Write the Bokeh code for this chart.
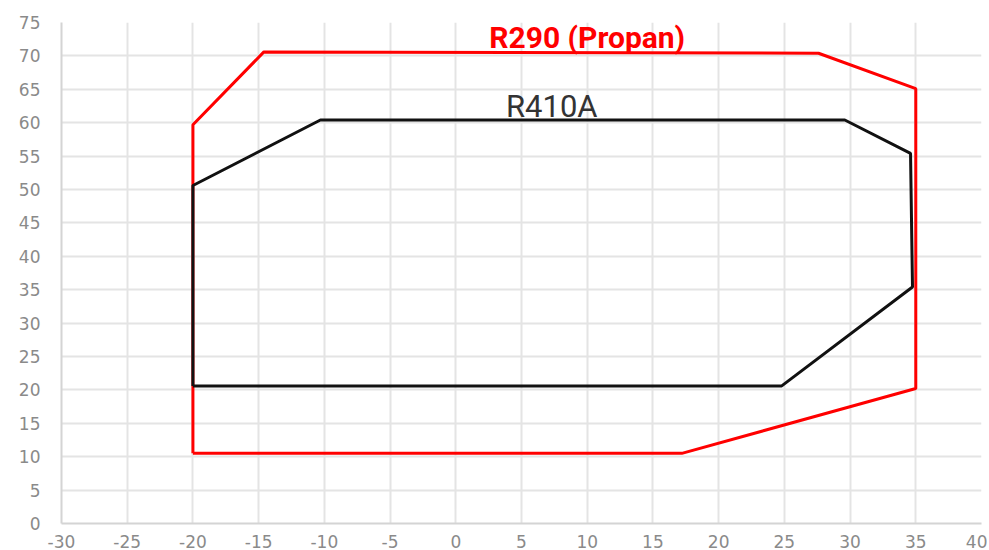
from bokeh.plotting import figure
from bokeh.models import FixedTicker, Range1d, PrintfTickFormatter
from bokeh.core.properties import value
from bokeh.embed import file_html
from bokeh.resources import INLINE

# R290 (Propan) envelope: outdoor temp (x) vs water temp (y)
r290_x = [-20, -20, -14.6, 27.6, 35, 35, 17.2, -20]
r290_y = [10.5, 59.7, 70.6, 70.4, 65.1, 20.2, 10.5, 10.5]

# R410A envelope
r410_x = [-20, -20, -10.3, 29.6, 34.6, 34.75, 24.8, -20]
r410_y = [20.6, 50.6, 60.4, 60.4, 55.4, 35.4, 20.6, 20.6]

x_ticks = list(range(-30, 45, 5))
y_ticks = list(range(0, 80, 5))

labels = ["R290 (Propan)", "R410A"]
label_x = [10.0, 7.3]
label_y = [72.8, 62.5]

p = figure(width=987, height=550, output_backend="svg", toolbar_location=None,
           x_range=Range1d(-30, 40), y_range=Range1d(0, 75),
           min_border_left=61, min_border_right=6, min_border_top=22, min_border_bottom=0)
p.outline_line_color = None
p.background_fill_color = "white"

for ax in (p.xaxis[0], p.yaxis[0]):
    ax.major_tick_line_color = None
    ax.minor_tick_line_color = None
    ax.major_tick_out = 0
    ax.major_tick_in = 0
    ax.axis_line_color = "#d4d4d4"
    ax.axis_line_width = 2
    ax.major_label_text_color = "#8a8a8a"
    ax.major_label_text_font = "DejaVu Sans"
    ax.major_label_text_font_size = "17px"
    ax.formatter = PrintfTickFormatter(format="%d")

p.xaxis.ticker = FixedTicker(ticks=x_ticks)
p.yaxis.ticker = FixedTicker(ticks=y_ticks)
p.xaxis.major_label_standoff = 11
p.yaxis.major_label_standoff = 21

p.xgrid.ticker = FixedTicker(ticks=x_ticks)
p.ygrid.ticker = FixedTicker(ticks=y_ticks)
p.grid.grid_line_color = "#e4e4e4"
p.grid.grid_line_width = 2

p.line(r290_x, r290_y, line_color="#ff0000", line_width=3)
p.line(r410_x, r410_y, line_color="#111111", line_width=3)

p.text(x=[label_x[0]], y=[label_y[0]], text=[labels[0]], text_color="#ff0000",
       text_font=value("Roboto"), text_font_style="bold", text_font_size="30px",
       text_align="center", text_baseline="alphabetic")
p.text(x=[label_x[1]], y=[label_y[1]], text=[labels[1]], text_color="#333333",
       text_font=value("Roboto"), text_font_size="31px",
       text_align="center", text_baseline="alphabetic")

open("out.html", "w").write(file_html(p, INLINE))
